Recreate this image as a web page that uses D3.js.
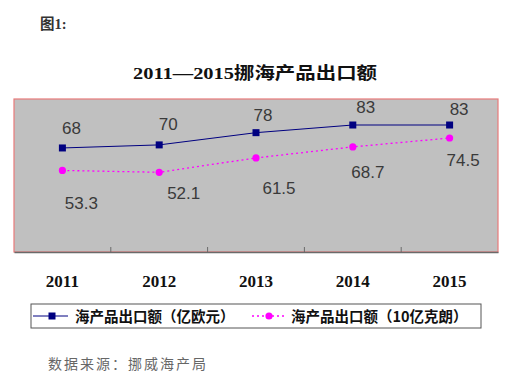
<!DOCTYPE html>
<html>
<head>
<meta charset="utf-8">
<script src="https://cdn.jsdelivr.net/npm/d3@7"></script>
<style>
  body { margin: 0; background: #fff; }
  svg { display: block; }
</style>
</head>
<body>
<svg id="chart" width="510" height="388"></svg>
<script>
// data
const years = ["2011", "2012", "2013", "2014", "2015"];
const euroValues = [68, 70, 78, 83, 83];          // 亿欧元
const kroneValues = [53.3, 52.1, 61.5, 68.7, 74.5]; // 10亿克朗
const seriesNames = ["海产品出口额（亿欧元）", "海产品出口额（10亿克朗）"];

// label nudges, excel-style manual placement
const euroNudge = [[9, -14], [9, -14.5], [7, -11.5], [13, -12.5], [9.5, -10]];
const kroneNudge = [[19, 39], [24.5, 26.5], [23, 36.5], [15, 31.5], [13.5, 28]];

const svg = d3.select("#chart");

const plotL = 14, plotR = 498, plotT = 99, plotB = 252;

const x = d3.scaleBand().domain(years).range([plotL, plotR]).padding(0);
const y = d3.scaleLinear().domain([0, 100]).range([plotB, plotT]);
const cx = d => x(d) + x.bandwidth() / 2;

// heading
svg.append("text")
  .attr("x", 40).attr("y", 29)
  .style("font-family", "'Liberation Serif','Noto Sans CJK SC'")
  .style("font-size", "14.5px").style("font-weight", "bold")
  .attr("fill", "#333")
  .text("图1:");

svg.append("text")
  .attr("x", 255).attr("y", 79)
  .attr("text-anchor", "middle")
  .attr("textLength", 244).attr("lengthAdjust", "spacingAndGlyphs")
  .style("font-family", "'Liberation Serif','Noto Sans CJK SC'")
  .style("font-size", "17px").style("font-weight", "bold")
  .attr("fill", "#111")
  .text("2011—2015挪海产品出口额");

// plot area
svg.append("rect")
  .attr("x", plotL).attr("y", plotT)
  .attr("width", plotR - plotL).attr("height", plotB - plotT)
  .attr("fill", "#c0c0c0")
  .attr("stroke", "#e87a7a").attr("stroke-width", 1.2);

// bottom axis
const axis = svg.append("g")
  .attr("transform", `translate(0,${plotB})`)
  .call(d3.axisBottom(x).tickSize(0).tickPadding(23));
axis.select(".domain").attr("stroke", "#6a6a6a").attr("stroke-width", 1.5);
axis.selectAll(".tick text")
  .style("font-family", "'Liberation Serif',serif")
  .style("font-size", "17px").style("font-weight", "bold")
  .attr("fill", "#111");

// tick marks at category boundaries
svg.append("g")
  .selectAll("line")
  .data(years.slice(1))
  .join("line")
  .attr("x1", d => x(d)).attr("x2", d => x(d))
  .attr("y1", plotB - 5).attr("y2", plotB)
  .attr("stroke", "#6a6a6a");

// lines
const lineFor = vals => d3.line().x((d, i) => cx(years[i])).y(d => y(d))(vals);

svg.append("path")
  .attr("d", lineFor(euroValues))
  .attr("fill", "none").attr("stroke", "#000080").attr("stroke-width", 1);

svg.append("path")
  .attr("d", lineFor(kroneValues))
  .attr("fill", "none").attr("stroke", "#ff00ff").attr("stroke-width", 1.3)
  .attr("stroke-dasharray", "2,3");

// markers
svg.append("g")
  .selectAll("rect")
  .data(euroValues)
  .join("rect")
  .attr("x", (d, i) => cx(years[i]) - 3.5)
  .attr("y", d => y(d) - 3.5)
  .attr("width", 7).attr("height", 7)
  .attr("fill", "#000080");

svg.append("g")
  .selectAll("circle")
  .data(kroneValues)
  .join("circle")
  .attr("cx", (d, i) => cx(years[i]))
  .attr("cy", d => y(d))
  .attr("r", 3.6)
  .attr("fill", "#ff00ff");

// value labels
const labelStyle = sel => sel
  .attr("text-anchor", "middle")
  .style("font-family", "'Liberation Sans',sans-serif")
  .style("font-size", "17px")
  .attr("fill", "#3a3a3a");

svg.append("g")
  .selectAll("text")
  .data(euroValues)
  .join("text")
  .attr("x", (d, i) => cx(years[i]) + euroNudge[i][0])
  .attr("y", (d, i) => y(d) + euroNudge[i][1])
  .call(labelStyle)
  .text(d => d);

svg.append("g")
  .selectAll("text")
  .data(kroneValues)
  .join("text")
  .attr("x", (d, i) => cx(years[i]) + kroneNudge[i][0])
  .attr("y", (d, i) => y(d) + kroneNudge[i][1])
  .call(labelStyle)
  .text(d => d3.format(".1f")(d));

// legend
const legend = svg.append("g");
legend.append("rect")
  .attr("x", 31).attr("y", 304).attr("width", 450).attr("height", 24)
  .attr("fill", "#fff").attr("stroke", "#555").attr("stroke-width", 1);

const ly = 316;
legend.append("line")
  .attr("x1", 33).attr("x2", 68).attr("y1", ly).attr("y2", ly)
  .attr("stroke", "#000080");
legend.append("rect")
  .attr("x", 48.5).attr("y", ly - 3.5).attr("width", 7).attr("height", 7)
  .attr("fill", "#000080");

legend.append("line")
  .attr("x1", 252).attr("x2", 287).attr("y1", ly).attr("y2", ly)
  .attr("stroke", "#ff00ff").attr("stroke-width", 1.3)
  .attr("stroke-dasharray", "2,3");
legend.append("circle")
  .attr("cx", 269).attr("cy", ly).attr("r", 3.6)
  .attr("fill", "#ff00ff");

legend.selectAll("text")
  .data(seriesNames)
  .join("text")
  .attr("x", (d, i) => i === 0 ? 75 : 291)
  .attr("y", 321.5)
  .style("font-family", "'Noto Sans CJK SC'")
  .style("font-size", "14.5px").style("font-weight", "bold")
  .attr("fill", "#111")
  .text(d => d);

// source
svg.append("text")
  .attr("x", 48).attr("y", 369)
  .style("font-family", "'Noto Sans CJK SC'")
  .style("font-size", "14px")
  .style("letter-spacing", "2px")
  .attr("fill", "#666")
  .text("数据来源：挪威海产局");
</script>
</body>
</html>
